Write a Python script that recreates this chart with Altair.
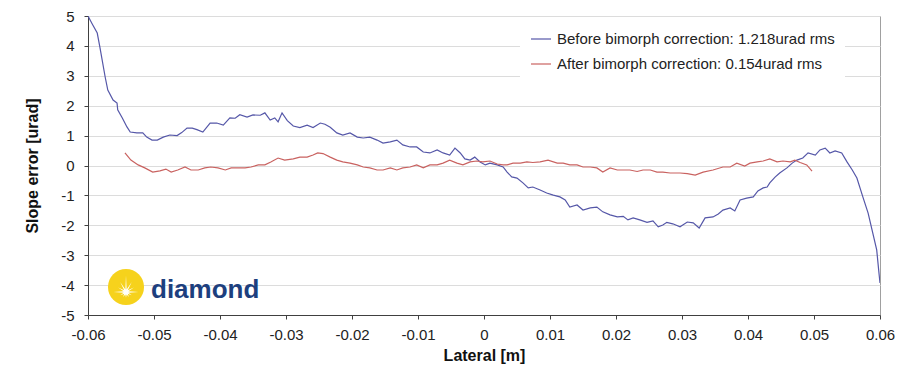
import altair as alt
import pandas as pd

series_names = ["Before bimorph correction: 1.218urad rms",
                "After bimorph correction: 0.154urad rms"]
series_colors = ["#5557a8", "#c96260"]

before_x = [-0.0600,-0.0594,-0.0586,-0.0582,-0.0574,-0.0570,-0.0562,-0.0556,-0.0555,-0.0548,
            -0.0541,-0.0536,-0.0526,-0.0517,-0.0511,-0.0503,-0.0495,-0.0486,-0.0476,-0.0465,
            -0.0458,-0.0450,-0.0442,-0.0435,-0.0426,-0.0415,-0.0405,-0.0395,-0.0385,-0.0377,
            -0.0370,-0.0359,-0.0350,-0.0339,-0.0332,-0.0324,-0.0317,-0.0312,-0.0306,-0.0298,
            -0.0289,-0.0279,-0.0268,-0.0259,-0.0248,-0.0241,-0.0233,-0.0223,-0.0214,-0.0203,
            -0.0192,-0.0183,-0.0173,-0.0162,-0.0153,-0.0142,-0.0132,-0.0123,-0.0112,-0.0102,
            -0.0092,-0.0082,-0.0071,-0.0062,-0.0052,-0.0044,-0.0036,-0.0029,-0.0021,-0.0014,
            -0.0006,0.0002,0.0009,0.0020,0.0029,0.0035,0.0042,0.0050,0.0059,0.0067,
            0.0074,0.0085,0.0095,0.0105,0.0115,0.0123,0.0130,0.0141,0.0150,0.0161,
            0.0171,0.0180,0.0191,0.0202,0.0211,0.0218,0.0226,0.0236,0.0247,0.0256,
            0.0264,0.0271,0.0277,0.0286,0.0297,0.0308,0.0317,0.0326,0.0335,0.0347,
            0.0355,0.0362,0.0373,0.0380,0.0388,0.0398,0.0408,0.0415,0.0423,0.0429,
            0.0433,0.0441,0.0448,0.0459,0.0467,0.0474,0.0483,0.0491,0.0502,0.0509,
            0.0517,0.0524,0.0532,0.0542,0.0550,0.0558,0.0565,0.0574,0.0582,0.0589,
            0.0595,0.0598,0.0600]
before_y = [5.0,4.75,4.43,3.96,2.96,2.52,2.19,2.09,1.86,1.59,
            1.29,1.12,1.09,1.09,0.95,0.85,0.85,0.95,1.02,1.0,
            1.1,1.25,1.25,1.2,1.12,1.42,1.42,1.35,1.59,1.58,
            1.70,1.62,1.69,1.68,1.76,1.52,1.59,1.46,1.76,1.5,
            1.32,1.27,1.35,1.27,1.42,1.38,1.28,1.09,1.02,1.09,
            0.95,0.92,0.95,0.85,0.75,0.79,0.85,0.69,0.62,0.62,
            0.45,0.42,0.52,0.42,0.35,0.58,0.42,0.22,0.18,0.28,
            0.12,0.02,0.08,0.02,-0.05,-0.22,-0.38,-0.42,-0.58,-0.75,
            -0.72,-0.82,-0.92,-0.99,-1.05,-1.15,-1.39,-1.32,-1.49,-1.42,
            -1.39,-1.55,-1.65,-1.72,-1.70,-1.82,-1.75,-1.82,-1.90,-1.85,
            -2.05,-1.99,-1.9,-1.95,-2.05,-1.89,-1.92,-2.09,-1.75,-1.72,
            -1.62,-1.49,-1.42,-1.52,-1.15,-1.09,-1.05,-0.85,-0.75,-0.72,
            -0.58,-0.39,-0.25,-0.08,0.08,0.18,0.25,0.42,0.35,0.52,
            0.58,0.42,0.49,0.42,0.12,-0.15,-0.42,-1.05,-1.59,-2.25,
            -2.82,-3.5,-3.93]

after_x = [-0.0544,-0.0535,-0.0524,-0.0514,-0.0502,-0.0491,-0.0482,-0.0474,-0.0464,-0.0453,
           -0.0444,-0.0433,-0.0423,-0.0414,-0.0403,-0.0392,-0.0383,-0.0373,-0.0362,-0.0353,
           -0.0342,-0.0332,-0.0323,-0.0312,-0.0302,-0.0289,-0.0279,-0.0268,-0.0259,-0.0252,
           -0.0244,-0.0233,-0.0223,-0.0214,-0.0203,-0.0192,-0.0183,-0.0173,-0.0162,-0.0153,
           -0.0142,-0.0132,-0.0123,-0.0112,-0.0102,-0.0092,-0.0082,-0.0071,-0.0062,-0.0052,
           -0.0041,-0.0032,-0.0021,-0.0011,-0.0002,0.0009,0.0020,0.0029,0.0035,0.0044,
           0.0055,0.0065,0.0074,0.0085,0.0097,0.0111,0.0120,0.0130,0.0141,0.0150,
           0.0161,0.0171,0.0180,0.0191,0.0202,0.0211,0.0221,0.0232,0.0241,0.0252,
           0.0262,0.0271,0.0282,0.0297,0.0308,0.0320,0.0332,0.0347,0.0362,0.0373,
           0.0383,0.0395,0.0403,0.0414,0.0423,0.0433,0.0444,0.0453,0.0464,0.0471,
           0.0479,0.0489,0.0497]
after_y = [0.42,0.18,0.02,-0.08,-0.22,-0.18,-0.12,-0.22,-0.15,-0.05,
           -0.15,-0.15,-0.08,-0.05,-0.08,-0.15,-0.08,-0.08,-0.08,-0.05,
           0.02,0.02,0.12,0.25,0.18,0.22,0.28,0.28,0.35,0.42,
           0.40,0.28,0.18,0.12,0.08,0.02,-0.05,-0.08,-0.15,-0.15,
           -0.08,-0.15,-0.08,-0.05,0.02,-0.08,0.02,0.02,0.08,0.18,
           0.08,0.02,0.12,0.15,0.12,0.15,0.05,0.02,0.02,0.08,
           0.08,0.12,0.10,0.12,0.18,0.08,0.08,0.02,0.02,-0.05,
           -0.05,-0.08,-0.22,-0.08,-0.15,-0.15,-0.15,-0.20,-0.15,-0.15,
           -0.22,-0.22,-0.25,-0.25,-0.27,-0.32,-0.22,-0.15,-0.05,-0.05,
           0.08,-0.02,0.08,0.12,0.15,0.22,0.12,0.15,0.12,0.18,
           0.10,0.02,-0.19]

x_ticks = [-0.06, -0.05, -0.04, -0.03, -0.02, -0.01, 0, 0.01, 0.02, 0.03, 0.04, 0.05, 0.06]
y_ticks = [-5, -4, -3, -2, -1, 0, 1, 2, 3, 4, 5]

x_title = "Lateral [m]"
y_title = "Slope error [urad]"
logo_text = "diamond"

rows = []
for i, (xv, yv) in enumerate(zip(before_x, before_y)):
    rows.append({"series": series_names[0], "x": xv, "y": yv, "i": i})
for i, (xv, yv) in enumerate(zip(after_x, after_y)):
    rows.append({"series": series_names[1], "x": xv, "y": yv, "i": i})
df = pd.DataFrame(rows)

FONT = "Liberation Sans"

lines = alt.Chart(df).mark_line(strokeWidth=1.2, clip=True).encode(
    x=alt.X("x:Q",
            scale=alt.Scale(domain=[-0.06, 0.06], nice=False, zero=False),
            axis=alt.Axis(title=x_title, values=x_ticks, grid=False,
                          labelExpr="datum.value == 0 ? '0' : (datum.value < 0 ? '-' + format(-datum.value, '.2f') : format(datum.value, '.2f'))",
                          labelFontSize=15, labelFont=FONT, labelColor="#222222",
                          labelPadding=8, tickSize=4, tickColor="#404040",
                          domainColor="#404040", titleFontSize=16, titleFont=FONT,
                          titleFontWeight="bold", titleColor="#111111", titlePadding=5,
                          labelFlush=False)),
    y=alt.Y("y:Q",
            scale=alt.Scale(domain=[-5, 5], nice=False, zero=False),
            axis=alt.Axis(title=y_title, values=y_ticks, grid=True,
                          gridColor="#dcdcdc", gridWidth=1,
                          labelExpr="datum.value < 0 ? '-' + format(-datum.value, 'd') : format(datum.value, 'd')",
                          labelFontSize=15, labelFont=FONT, labelColor="#222222",
                          labelPadding=10, tickSize=4, tickColor="#404040",
                          domainColor="#404040", titleFontSize=16, titleFont=FONT,
                          titleFontWeight="bold", titleColor="#111111", titlePadding=20,
                          labelFlush=False)),
    color=alt.Color("series:N",
                    scale=alt.Scale(domain=series_names, range=series_colors),
                    sort=series_names,
                    legend=alt.Legend(orient="none", legendX=432, legendY=2,
                                      fillColor="white", padding=10, title=None,
                                      symbolType="stroke", symbolSize=400,
                                      symbolStrokeWidth=1.2, labelFontSize=15,
                                      labelFont=FONT, labelColor="#222222",
                                      rowPadding=6, labelOffset=5, labelLimit=0)),
    order="i:Q",
)

one = pd.DataFrame({"k": [0]})
star_path = ("M0,-1 L0.039,-0.145 L0.35,-0.606 L0.106,-0.106 L0.476,-0.275 L0.145,-0.039 "
             "L0.75,0 L0.145,0.039 L0.346,0.2 L0.106,0.106 L0.175,0.303 L0.039,0.145 "
             "L0,0.35 L-0.039,0.145 L-0.175,0.303 L-0.106,0.106 L-0.346,0.2 L-0.145,0.039 "
             "L-0.75,0 L-0.145,-0.039 L-0.476,-0.275 L-0.106,-0.106 L-0.35,-0.606 L-0.039,-0.145 Z")

logo_disc = alt.Chart(one).mark_point(shape="circle", filled=True, opacity=1,
                                       color="#f6d21c", size=1300).encode(
    x=alt.value(38), y=alt.value(271))
logo_star = alt.Chart(one).mark_point(shape=star_path, filled=True, opacity=1,
                                       color="white", size=1100).encode(
    x=alt.value(38), y=alt.value(276))
logo_word = alt.Chart(one).mark_text(text=logo_text, font=FONT, fontSize=26,
                                      fontWeight="bold", color="#1d3f7e",
                                      align="left", baseline="alphabetic").encode(
    x=alt.value(63), y=alt.value(282))

chart = alt.layer(logo_disc, logo_star, logo_word, lines).properties(
    width=792, height=299,
    autosize=alt.AutoSizeParams(type="none"),
    padding={"left": 80, "top": 8, "right": 23, "bottom": 52},
    background="white",
).configure_view(stroke="#a0a0a0", strokeWidth=1)

chart.save("out.html", embed_options={"renderer": "svg", "actions": False})
